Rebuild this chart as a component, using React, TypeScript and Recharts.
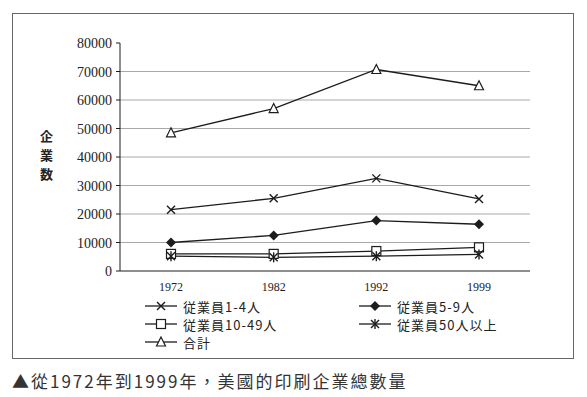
import { CartesianGrid, Line, LineChart, XAxis, YAxis } from 'recharts'

const years = ['1972', '1982', '1992', '1999']
const staff1to4 = [21500, 25500, 32500, 25300]
const staff5to9 = [10000, 12500, 17700, 16400]
const staff10to49 = [6000, 6000, 7000, 8300]
const staff50plus = [5200, 4800, 5200, 5800]
const totals = [48500, 57000, 70700, 65000]
const yTicks = [0, 10000, 20000, 30000, 40000, 50000, 60000, 70000, 80000]
const gridTicks = [10000, 20000, 30000, 40000, 50000, 60000, 70000]

type MarkerKind = 'cross' | 'diamond' | 'square' | 'star' | 'triangle'

const seriesList: { key: string; label: string; marker: MarkerKind }[] = [
  { key: 's1', label: '従業員1-4人', marker: 'cross' },
  { key: 's2', label: '従業員5-9人', marker: 'diamond' },
  { key: 's3', label: '従業員10-49人', marker: 'square' },
  { key: 's4', label: '従業員50人以上', marker: 'star' },
  { key: 'total', label: '合計', marker: 'triangle' },
]

const chartData = years.map((year, i) => ({
  year,
  s1: staff1to4[i],
  s2: staff5to9[i],
  s3: staff10to49[i],
  s4: staff50plus[i],
  total: totals[i],
}))

const ink = '#1c1c1c'
const cjkFont = '"Noto Sans CJK JP", "Noto Sans", sans-serif'
const serifFont = '"Liberation Serif", "DejaVu Serif", serif'

function Marker({ kind, cx, cy }: { kind: MarkerKind; cx: number; cy: number }) {
  const s = 4
  if (kind === 'cross') {
    return (
      <g stroke={ink} strokeWidth={1.4}>
        <line x1={cx - s} y1={cy - s} x2={cx + s} y2={cy + s} />
        <line x1={cx - s} y1={cy + s} x2={cx + s} y2={cy - s} />
      </g>
    )
  }
  if (kind === 'diamond') {
    return (
      <polygon
        points={`${cx},${cy - 5} ${cx + 5},${cy} ${cx},${cy + 5} ${cx - 5},${cy}`}
        fill={ink}
      />
    )
  }
  if (kind === 'square') {
    return (
      <rect x={cx - 4.5} y={cy - 4.5} width={9} height={9} fill="#fff" stroke={ink} strokeWidth={1.2} />
    )
  }
  if (kind === 'star') {
    return (
      <g stroke={ink} strokeWidth={1.4}>
        <line x1={cx - s} y1={cy - s} x2={cx + s} y2={cy + s} />
        <line x1={cx - s} y1={cy + s} x2={cx + s} y2={cy - s} />
        <line x1={cx} y1={cy - s - 1} x2={cx} y2={cy + s + 1} />
      </g>
    )
  }
  return (
    <polygon
      points={`${cx},${cy - 5} ${cx + 4.5},${cy + 4} ${cx - 4.5},${cy + 4}`}
      fill="#fff"
      stroke={ink}
      strokeWidth={1.2}
    />
  )
}

function renderDot(kind: MarkerKind) {
  return (props: any) => {
    const { cx, cy, index } = props
    if (cx == null || cy == null) return <g key={index} />
    return <Marker key={index} kind={kind} cx={cx} cy={cy} />
  }
}

function YTick(props: any) {
  const { x, y, payload } = props
  return (
    <text
      x={x}
      y={y}
      dy={5}
      textAnchor="end"
      fill="#222"
      fontSize={14}
      style={{ fontFamily: serifFont }}
    >
      {payload.value}
    </text>
  )
}

function LegendItem({ label, marker }: { label: string; marker: MarkerKind }) {
  return (
    <div style={{ display: 'flex', alignItems: 'center', height: 18 }}>
      <svg width={32} height={12} style={{ marginRight: 6 }}>
        <line x1={0} y1={6} x2={32} y2={6} stroke={ink} strokeWidth={1.3} />
        <Marker kind={marker} cx={16} cy={6} />
      </svg>
      <span style={{ fontFamily: cjkFont, fontSize: 13, color: '#222', letterSpacing: 1 }}>{label}</span>
    </div>
  )
}

export default function App() {
  return (
    <div style={{ position: 'absolute', left: 0, top: 0, width: 587, height: 397, background: '#fff' }}>
      <div
        style={{
          position: 'absolute',
          left: 12,
          top: 13,
          width: 560,
          height: 344,
          border: '1px solid #666',
        }}
      />
      <div
        style={{
          position: 'absolute',
          left: 40,
          top: 126,
          width: 16,
          fontFamily: cjkFont,
          fontWeight: 700,
          fontSize: 13,
          lineHeight: '19px',
          color: '#222',
        }}
      >
        企<br />業<br />数
      </div>
      <div style={{ position: 'absolute', left: 0, top: 0 }}>
        <LineChart width={587} height={310} data={chartData} margin={{ top: 43, right: 57, left: 60, bottom: 9 }}>
          <CartesianGrid
            vertical={false}
            horizontalValues={gridTicks}
            stroke="#a8a8a8"
            strokeWidth={1}
          />
          <XAxis
            dataKey="year"
            height={30}
            tickLine={false}
            stroke={ink}
            padding={{ left: 51, right: 51 }}
            tick={{ fill: '#222', fontSize: 12, fontFamily: serifFont }}
            tickMargin={5}
          />
          <YAxis
            width={60}
            domain={[0, 80000]}
            ticks={yTicks}
            interval={0}
            stroke={ink}
            tickSize={4}
            tick={<YTick />}
            tickMargin={4}
          />
          {seriesList.map((s) => (
            <Line
              key={s.key}
              dataKey={s.key}
              stroke={ink}
              strokeWidth={1.3}
              dot={renderDot(s.marker)}
              activeDot={false}
              isAnimationActive={false}
              type="linear"
            />
          ))}
        </LineChart>
      </div>
      <div style={{ position: 'absolute', left: 145, top: 297, width: 400 }}>
        <div style={{ display: 'grid', gridTemplateColumns: '214px 200px' }}>
          {seriesList.map((s) => (
            <LegendItem key={s.key} label={s.label} marker={s.marker} />
          ))}
        </div>
      </div>
      <div
        style={{
          position: 'absolute',
          left: 12,
          top: 368,
          fontFamily: '"Noto Sans CJK TC", sans-serif',
          fontSize: 17,
          letterSpacing: 2,
          color: '#333',
          whiteSpace: 'nowrap',
        }}
      >
        ▲從1972年到1999年，美國的印刷企業總數量
      </div>
    </div>
  )
}
